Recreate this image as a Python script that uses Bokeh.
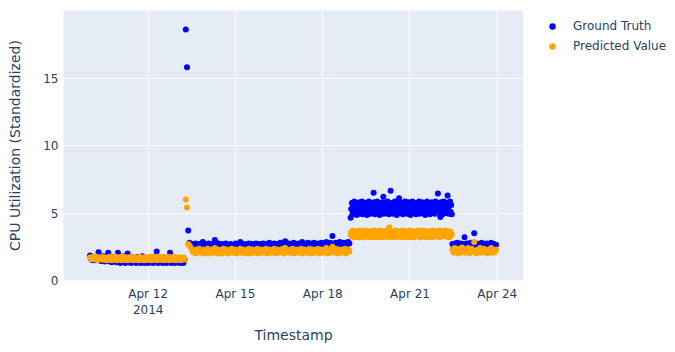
import pandas as pd
from bokeh.plotting import figure
from bokeh.layouts import row
from bokeh.models import ColumnDataSource, Range1d, FixedTicker, Legend, LegendItem
from bokeh.embed import file_html
from bokeh.resources import INLINE

# ---------------- data ----------------
segment_starts = ["2014-04-10 00:00", "2014-04-13 07:00", "2014-04-18 23:00", "2014-04-22 11:00"]
segment_freqs = ["h", "h", "30min", "h"]

gt_seg1 = [1.85, 1.55, 1.5, 1.7, 1.6, 1.5, 1.75, 2.1, 1.5, 1.45,
           1.6, 1.8, 1.4, 1.55, 1.7, 2.05, 1.4, 1.6, 1.35, 1.75,
           1.45, 1.65, 1.35, 2.05, 1.5, 1.3, 1.6, 1.4, 1.8, 1.3,
           1.5, 2.0, 1.35, 1.55, 1.3, 1.7, 1.4, 1.5, 1.3, 1.75,
           1.35, 1.6, 1.3, 1.8, 1.4, 1.3, 1.65, 1.45, 1.3, 1.55,
           1.35, 1.75, 1.3, 1.5, 1.4, 2.15, 1.3, 1.6, 1.35, 1.45,
           1.3, 1.7, 1.4, 1.3, 1.55, 1.35, 2.05, 1.3, 1.5, 1.4,
           1.3, 1.65, 1.35, 1.45, 1.3, 1.6, 1.4, 1.3, 1.55]
pv_seg1 = [1.7, 1.55, 1.75, 1.6, 1.65, 1.78, 1.5, 1.62, 1.72, 1.55,
           1.6, 1.75, 1.52, 1.68, 1.5, 1.65, 1.76, 1.55, 1.5, 1.72,
           1.58, 1.78, 1.5, 1.66, 1.55, 1.74, 1.5, 1.62, 1.76, 1.52,
           1.7, 1.5, 1.6, 1.75, 1.53, 1.66, 1.5, 1.73, 1.56, 1.64,
           1.5, 1.76, 1.58, 1.52, 1.7, 1.5, 1.63, 1.75, 1.52, 1.6,
           1.77, 1.5, 1.66, 1.55, 1.74, 1.5, 1.62, 1.78, 1.52, 1.58,
           1.72, 1.5, 1.65, 1.55, 1.76, 1.5, 1.6, 1.74, 1.52, 1.58,
           1.75, 1.5, 1.66, 1.54, 1.72, 1.5, 1.62, 1.7, 1.55]

gt_seg2 = [18.6, 15.8, 3.7, 2.8, 2.55, 2.7, 2.5, 2.65, 2.75, 2.55,
           2.6, 2.7, 2.5, 2.65, 2.85, 2.55, 2.7, 2.5, 2.6, 2.75,
           2.55, 2.65, 2.5, 2.7, 3.0, 2.6, 2.5, 2.75, 2.55, 2.65,
           2.7, 2.5, 2.6, 2.75, 2.55, 2.65, 2.5, 2.7, 2.6, 2.55,
           2.65, 2.75, 2.5, 2.6, 2.7, 2.85, 2.55, 2.65, 2.5, 2.7,
           2.6, 2.55, 2.75, 2.5, 2.65, 2.7, 2.55, 2.6, 2.75, 2.5,
           2.65, 2.7, 2.55, 2.6, 2.75, 2.5, 2.65, 2.7, 2.55, 2.8,
           2.6, 2.65, 2.5, 2.75, 2.6, 2.7, 2.55, 2.65, 2.8, 2.6,
           2.7, 2.55, 2.9, 2.65, 2.6, 2.75, 2.55, 2.7, 2.65, 2.8,
           2.6, 2.7, 2.55, 2.75, 2.65, 2.6, 2.85, 2.7, 2.6, 2.75,
           2.65, 2.8, 2.6, 2.7, 2.75, 2.6, 2.8, 2.65, 2.7, 2.6,
           2.75, 2.65, 2.8, 2.7, 2.6, 2.75, 2.85, 2.65, 2.7, 2.8,
           2.65, 3.3, 2.75, 2.7, 2.8, 2.65, 2.75, 2.85, 2.7, 2.8,
           2.65, 2.75, 2.8, 2.7, 2.85, 2.75]
pv_seg2 = [6.0, 5.4, 2.7, 2.6, 2.45, 2.3, 2.1, 2.25, 2.0, 2.3,
           2.15, 2.35, 2.05, 2.2, 2.3, 2.0, 2.25, 2.1, 2.35, 2.0,
           2.2, 2.3, 2.05, 2.25, 2.4, 2.1, 2.0, 2.3, 2.15, 2.25,
           2.0, 2.35, 2.1, 2.2, 2.3, 2.0, 2.25, 2.15, 2.35, 2.05,
           2.2, 2.3, 2.0, 2.25, 2.1, 2.35, 2.05, 2.2, 2.3, 2.0,
           2.25, 2.15, 2.35, 2.0, 2.2, 2.3, 2.05, 2.25, 2.1, 2.35,
           2.0, 2.2, 2.3, 2.05, 2.25, 2.15, 2.35, 2.0, 2.2, 2.3,
           2.05, 2.25, 2.1, 2.35, 2.0, 2.2, 2.3, 2.05, 2.25, 2.15,
           2.35, 2.0, 2.4, 2.2, 2.3, 2.05, 2.25, 2.1, 2.35, 2.0,
           2.2, 2.3, 2.05, 2.25, 2.15, 2.35, 2.0, 2.2, 2.3, 2.05,
           2.25, 2.1, 2.35, 2.0, 2.2, 2.3, 2.05, 2.25, 2.15, 2.35,
           2.0, 2.2, 2.3, 2.05, 2.25, 2.1, 2.4, 2.0, 2.2, 2.3,
           2.05, 2.5, 2.25, 2.15, 2.35, 2.0, 2.2, 2.3, 2.05, 2.25,
           2.1, 2.35, 2.0, 2.2, 2.3, 2.15]

gt_seg3 = [4.65, 5.3, 5.75, 4.9, 5.5, 5.15, 5.85, 5.0, 5.6, 5.35, 4.85, 5.7,
           5.2, 5.45, 4.95, 5.8, 5.05, 5.55, 5.3, 5.85, 4.9, 5.65, 5.15, 5.4,
           5.75, 5.0, 5.5, 4.85, 5.6, 5.25, 5.85, 5.1, 5.45, 4.95, 5.7, 5.3,
           5.55, 5.05, 6.5, 5.8, 4.9, 5.4, 5.65, 5.15, 5.85, 5.0, 5.5, 5.25,
           4.85, 5.7, 5.35, 5.6, 5.1, 5.8, 6.2, 4.95, 5.45, 5.75, 5.2, 5.55,
           5.0, 5.85, 5.3, 4.9, 5.65, 5.4, 6.65, 5.1, 5.75, 5.5, 4.95, 5.6,
           5.25, 5.85, 5.05, 5.45, 4.85, 5.7, 5.35, 5.55, 6.1, 5.15, 5.8, 5.0,
           5.6, 5.3, 4.9, 5.75, 5.45, 5.1, 5.85, 5.2, 5.65, 4.95, 5.5, 5.4,
           5.8, 5.05, 5.55, 4.85, 5.7, 5.25, 5.85, 5.35, 5.0, 5.6, 5.15, 5.45,
           4.9, 5.75, 5.3, 5.55, 5.1, 5.85, 4.95, 5.65, 5.4, 5.2, 5.8, 5.0,
           5.5, 5.25, 5.7, 4.85, 5.6, 5.35, 5.85, 5.05, 5.45, 5.15, 5.75, 4.9,
           5.55, 5.3, 5.8, 5.0, 5.65, 5.2, 5.4, 4.95, 5.85, 5.1, 5.6, 5.35,
           6.45, 5.7, 5.05, 5.5, 4.7, 5.8, 5.25, 5.6, 4.9, 5.45, 5.85, 5.15,
           5.65, 5.0, 5.4, 5.75, 6.3, 5.3, 4.95, 5.55, 5.85, 5.1, 5.6, 4.9]
pv_seg3 = [3.4, 3.6, 3.25, 3.5, 3.7, 3.3, 3.55, 3.2, 3.45, 3.65, 3.35, 3.5,
           3.3, 3.6, 3.2, 3.45, 3.7, 3.4, 3.25, 3.55, 3.35, 3.65, 3.2, 3.5,
           3.45, 3.7, 3.3, 3.55, 3.25, 3.6, 3.4, 3.65, 3.2, 3.5, 3.35, 3.6,
           3.25, 3.55, 3.4, 3.7, 3.3, 3.5, 3.2, 3.65, 3.45, 3.35, 3.6, 3.25,
           3.5, 3.7, 3.35, 3.55, 3.2, 3.45, 3.65, 3.3, 3.6, 3.4, 3.25, 3.55,
           3.7, 3.3, 3.5, 3.2, 3.95, 3.45, 3.6, 3.35, 3.65, 3.25, 3.5, 3.4,
           3.6, 3.2, 3.55, 3.7, 3.3, 3.45, 3.25, 3.65, 3.4, 3.5, 3.35, 3.6,
           3.2, 3.55, 3.7, 3.4, 3.3, 3.6, 3.25, 3.5, 3.65, 3.35, 3.45, 3.2,
           3.6, 3.4, 3.7, 3.3, 3.55, 3.25, 3.5, 3.65, 3.2, 3.45, 3.35, 3.6,
           3.5, 3.3, 3.65, 3.4, 3.7, 3.25, 3.55, 3.2, 3.6, 3.45, 3.35, 3.5,
           3.7, 3.25, 3.5, 3.6, 3.3, 3.45, 3.2, 3.65, 3.4, 3.55, 3.3, 3.6,
           3.45, 3.2, 3.55, 3.7, 3.35, 3.6, 3.25, 3.5, 3.65, 3.4, 3.3, 3.55,
           3.25, 3.6, 3.4, 3.7, 3.2, 3.5, 3.65, 3.35, 3.55, 3.3, 3.45, 3.6,
           3.4, 3.7, 3.3, 3.55, 3.25, 3.6, 3.45, 3.2, 3.65, 3.35, 3.5, 3.4]

gt_seg4 = [2.7, 2.55, 2.75, 2.6, 2.8, 2.5, 2.65, 2.75, 2.55, 2.7,
           3.2, 2.6, 2.75, 2.5, 2.65, 2.8, 2.55, 2.7, 3.5, 2.6,
           2.75, 2.55, 2.7, 2.65, 2.8, 2.5, 2.7, 2.6, 2.75, 2.55,
           2.7, 2.65, 2.8, 2.6, 2.7, 2.55, 2.65]
pv_seg4 = [2.3, 2.05, 2.4, 2.15, 2.25, 2.0, 2.35, 2.1, 2.45, 2.2,
           2.05, 2.3, 2.15, 2.4, 2.0, 2.25, 2.35, 2.1, 2.85, 2.2,
           2.0, 2.3, 2.15, 2.4, 2.05, 2.25, 2.35, 2.1, 2.2, 2.0,
           2.3, 2.15, 2.4, 2.05, 2.25, 2.1, 2.3]

gt_segments = [gt_seg1, gt_seg2, gt_seg3, gt_seg4]
pv_segments = [pv_seg1, pv_seg2, pv_seg3, pv_seg4]

series_names = ["Ground Truth", "Predicted Value"]
series_colors = ["blue", "orange"]
series_fields = ["gt", "pv"]
x_tick_dates = ["2014-04-12", "2014-04-15", "2014-04-18", "2014-04-21", "2014-04-24"]
x_tick_labels = ["Apr 12\n2014", "Apr 15", "Apr 18", "Apr 21", "Apr 24"]
y_ticks = [0, 5, 10, 15]

timestamps, ground_truth, predicted = [], [], []
for start, freq, g, pr in zip(segment_starts, segment_freqs, gt_segments, pv_segments):
    timestamps.extend(pd.date_range(start, periods=len(g), freq=freq))
    ground_truth.extend(g)
    predicted.extend(pr)

# ---------------- figure ----------------
FONT = "DejaVu Sans"
TXT = "#2a3f5f"


def ms(s):
    return pd.Timestamp(s).value / 1e6


source = ColumnDataSource(dict(ts=timestamps, gt=ground_truth, pv=predicted))

p = figure(width=523, height=352, x_axis_type="datetime", title=None,
           output_backend="svg", toolbar_location=None,
           x_range=Range1d(ms("2014-04-09 02:05"), ms("2014-04-24 21:40")),
           y_range=Range1d(0, 20.0),
           min_border_left=63, min_border_right=0,
           min_border_top=10, min_border_bottom=72)

p.background_fill_color = "#E5ECF6"
p.border_fill_color = "white"
p.outline_line_color = None

for f, c in zip(series_fields, series_colors):
    p.scatter("ts", f, source=source, size=6, fill_color=c, line_color=None)

tick_ms = [ms(d) for d in x_tick_dates]
p.xaxis.ticker = FixedTicker(ticks=tick_ms)
p.xaxis.major_label_overrides = {t: lab for t, lab in zip(tick_ms, x_tick_labels)}
p.yaxis.ticker = FixedTicker(ticks=y_ticks)

for ax in (p.xaxis[0], p.yaxis[0]):
    ax.axis_line_color = None
    ax.major_tick_line_color = None
    ax.minor_tick_line_color = None
    ax.major_tick_out = 0
    ax.major_tick_in = 0
    ax.major_label_text_font = FONT
    ax.major_label_text_font_size = "12px"
    ax.major_label_text_color = TXT
    ax.axis_label_text_font = FONT
    ax.axis_label_text_font_size = "14px"
    ax.axis_label_text_color = TXT
    ax.axis_label_text_font_style = "normal"

p.xaxis.axis_label = "Timestamp"
p.yaxis.axis_label = "CPU Utilization (Standardized)"
p.xaxis.major_label_standoff = 6
p.yaxis.major_label_standoff = 5
p.xaxis.axis_label_standoff = 7
p.yaxis.axis_label_standoff = 17

p.grid.grid_line_color = "white"
p.grid.grid_line_width = 1

# ---------------- legend panel (keys share the data; range keeps them off-view) ----------------
lp = figure(width=152, height=352, output_backend="svg", toolbar_location=None,
            title=None, x_axis_location=None, y_axis_location=None,
            x_range=Range1d(0, 1), y_range=Range1d(0, 1),
            min_border_left=0, min_border_right=0,
            min_border_top=0, min_border_bottom=0)
lp.outline_line_color = None
lp.background_fill_color = "white"
lp.border_fill_color = "white"
lp.xgrid.visible = False
lp.ygrid.visible = False
lp.grid.grid_line_color = None

key_renderers = [lp.scatter("ts", f, source=source, size=6, fill_color=c, line_color=None)
                 for f, c in zip(series_fields, series_colors)]

legend = Legend(items=[LegendItem(label=n, renderers=[r])
                       for n, r in zip(series_names, key_renderers)],
                location="top_left", orientation="vertical",
                margin=8, padding=5, spacing=4,
                glyph_width=42, glyph_height=16, label_height=16,
                label_standoff=0,
                label_text_font=FONT, label_text_font_size="12px",
                label_text_color=TXT,
                border_line_color=None, background_fill_alpha=0)
lp.add_layout(legend)

layout = row(p, lp)
open("out.html", "w").write(file_html(layout, INLINE))
